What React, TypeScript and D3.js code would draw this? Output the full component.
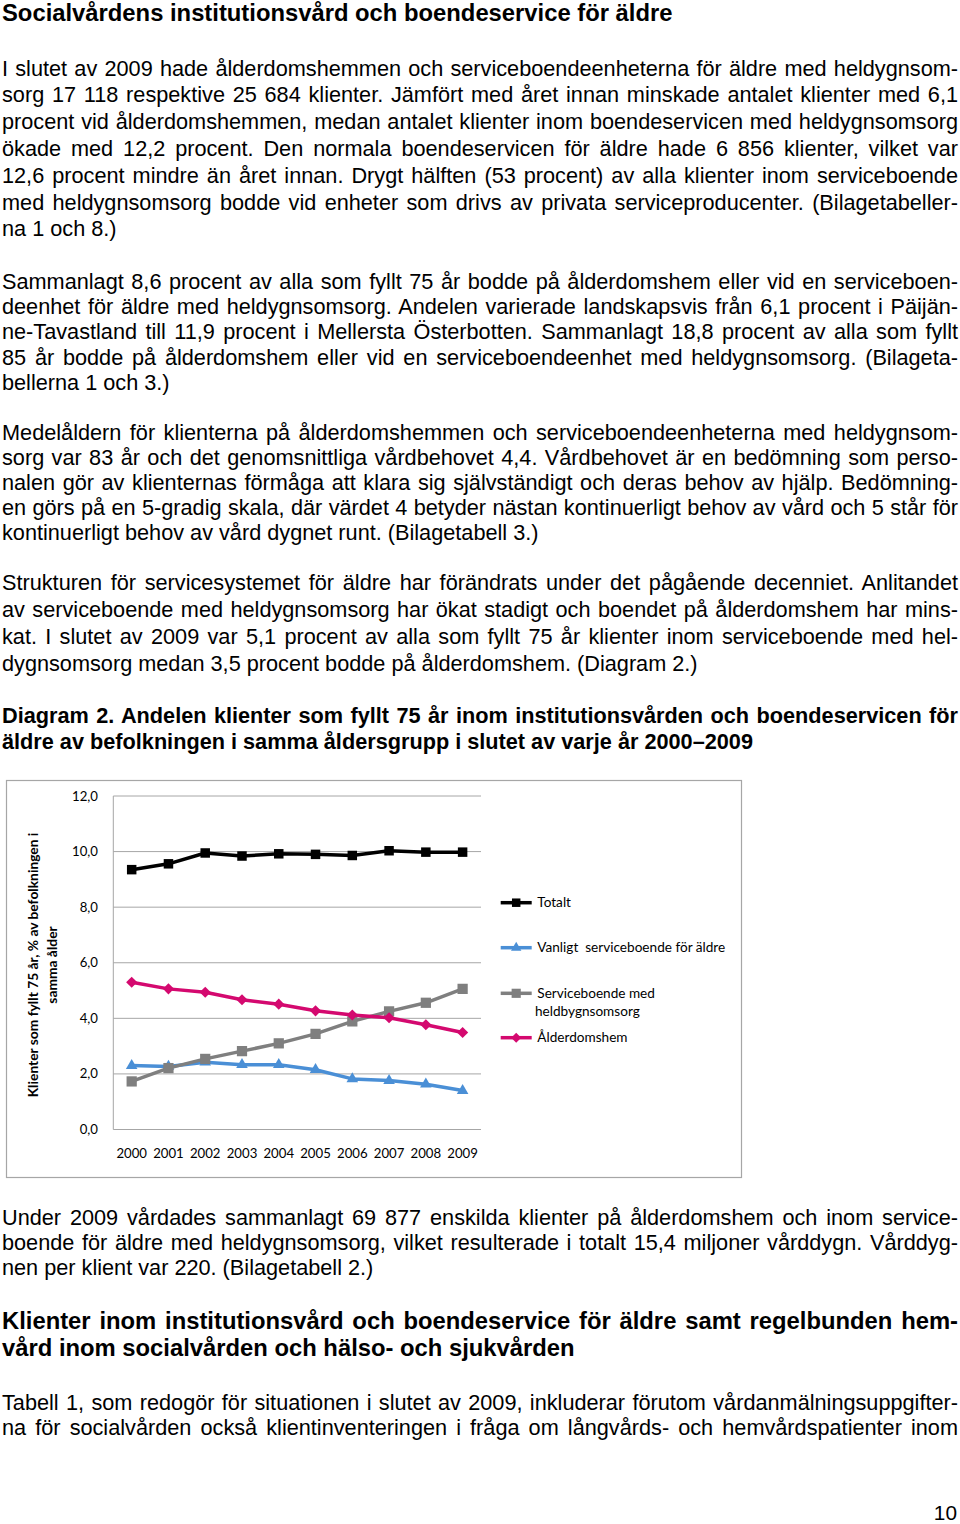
import React, { useLayoutEffect, useRef } from "react";
import * as d3 from "d3";

// ---------- chart data ----------
const years = ["2000", "2001", "2002", "2003", "2004", "2005", "2006", "2007", "2008", "2009"];
const totalt = [9.35, 9.56, 9.95, 9.84, 9.92, 9.9, 9.86, 10.03, 9.98, 9.98];
const vanligt = [2.3, 2.27, 2.42, 2.33, 2.33, 2.15, 1.82, 1.76, 1.63, 1.4];
const heldygn = [1.73, 2.21, 2.54, 2.82, 3.1, 3.44, 3.89, 4.25, 4.56, 5.06];
const alderdomshem = [5.3, 5.06, 4.94, 4.67, 4.51, 4.27, 4.12, 4.02, 3.77, 3.49];
const yTicks = [0, 2, 4, 6, 8, 10, 12];
const seriesNames = ["Totalt", "Vanligt  serviceboende för äldre", "Serviceboende med|heldbygnsomsorg", "Ålderdomshem"];
const axisTitle = ["Klienter som fyllt 75 år, % av befolkningen i", "samma ålder"];

// ---------- page text ----------
const title1 = ["Socialvårdens institutionsvård och boendeservice för äldre"];
const para1 = [
  "I slutet av 2009 hade ålderdomshemmen och serviceboendeenheterna för äldre med heldygnsom-",
  "sorg 17 118 respektive 25 684 klienter. Jämfört med året innan minskade antalet klienter med 6,1",
  "procent vid ålderdomshemmen, medan antalet klienter inom boendeservicen med heldygnsomsorg",
  "ökade med 12,2 procent. Den normala boendeservicen för äldre hade 6 856 klienter, vilket var",
  "12,6 procent mindre än året innan. Drygt hälften (53 procent) av alla klienter inom serviceboende",
  "med heldygnsomsorg bodde vid enheter som drivs av privata serviceproducenter. (Bilagetabeller-",
  "na 1 och 8.)",
];
const para2 = [
  "Sammanlagt 8,6 procent av alla som fyllt 75 år bodde på ålderdomshem eller vid en serviceboen-",
  "deenhet för äldre med heldygnsomsorg. Andelen varierade landskapsvis från 6,1 procent i Päijän-",
  "ne-Tavastland till 11,9 procent i Mellersta Österbotten. Sammanlagt 18,8 procent av alla som fyllt",
  "85 år bodde på ålderdomshem eller vid en serviceboendeenhet med heldygnsomsorg. (Bilageta-",
  "bellerna 1 och 3.)",
];
const para3 = [
  "Medelåldern för klienterna på ålderdomshemmen och serviceboendeenheterna med heldygnsom-",
  "sorg var 83 år och det genomsnittliga vårdbehovet 4,4. Vårdbehovet är en bedömning som perso-",
  "nalen gör av klienternas förmåga att klara sig självständigt och deras behov av hjälp. Bedömning-",
  "en görs på en 5-gradig skala, där värdet 4 betyder nästan kontinuerligt behov av vård och 5 står för",
  "kontinuerligt behov av vård dygnet runt. (Bilagetabell 3.)",
];
const para4 = [
  "Strukturen för servicesystemet för äldre har förändrats under det pågående decenniet. Anlitandet",
  "av serviceboende med heldygnsomsorg har ökat stadigt och boendet på ålderdomshem har mins-",
  "kat. I slutet av 2009 var 5,1 procent av alla som fyllt 75 år klienter inom serviceboende med hel-",
  "dygnsomsorg medan 3,5 procent bodde på ålderdomshem. (Diagram 2.)",
];
const diagTitle = [
  "Diagram 2. Andelen klienter som fyllt 75 år inom institutionsvården och boendeservicen för",
  "äldre av befolkningen i samma åldersgrupp i slutet av varje år 2000–2009",
];
const para5 = [
  "Under 2009 vårdades sammanlagt 69 877 enskilda klienter på ålderdomshem och inom service-",
  "boende för äldre med heldygnsomsorg, vilket resulterade i totalt 15,4 miljoner vårddygn. Vårddyg-",
  "nen per klient var 220. (Bilagetabell 2.)",
];
const heading2 = [
  "Klienter inom institutionsvård och boendeservice för äldre samt regelbunden hem-",
  "vård inom socialvården och hälso- och sjukvården",
];
const para6 = [
  "Tabell 1, som redogör för situationen i slutet av 2009, inkluderar förutom vårdanmälningsuppgifter-",
  "na för socialvården också klientinventeringen i fråga om långvårds- och hemvårdspatienter inom",
];

const TEXT_FONT = "'Liberation Sans', Arial, sans-serif";
const CHART_FONT = "Lato, 'Open Sans', sans-serif";

function Line({ x, y, text, justify, width, size, bold }) {
  const ref = useRef(null);
  useLayoutEffect(() => {
    const el = ref.current;
    if (!el || !justify) return;
    const fit = () => {
      el.style.wordSpacing = "0px";
      const nat = el.getComputedTextLength();
      const spaces = (text.match(/ /g) || []).length;
      if (spaces > 0) el.style.wordSpacing = `${(width - nat) / spaces}px`;
    };
    fit();
    if (document.fonts && document.fonts.ready) document.fonts.ready.then(fit);
  }, [text, justify, width]);
  return (
    <text ref={ref} x={x} y={y} fontFamily={TEXT_FONT} fontSize={size} fontWeight={bold ? "bold" : "normal"} fill="#000" style={{ whiteSpace: "pre" }}>
      {text}
    </text>
  );
}

function Block({ lines, y0, step, size, bold = false, justifyAll = false }) {
  return (
    <g>
      {lines.map((t, i) => (
        <Line
          key={i}
          x={2}
          y={y0 + i * step}
          text={t}
          size={size}
          bold={bold}
          width={956}
          justify={justifyAll || i < lines.length - 1}
        />
      ))}
    </g>
  );
}

export default function App() {
  const x = d3.scalePoint().domain(years).range([113.3, 481]).padding(0.5);
  const y = d3.scaleLinear().domain([0, 12]).range([1129.5, 796]);
  const line = d3
    .line<number>()
    .x((_, i) => x(years[i]) as number)
    .y((d) => y(d));

  const sq = d3.symbol().type(d3.symbolSquare);
  const series = [
    { name: seriesNames[0], data: totalt, color: "#000000", marker: "square", size: 90 },
    { name: seriesNames[1], data: vanligt, color: "#4a8fd6", marker: "triangle", size: 58 },
    { name: seriesNames[2], data: heldygn, color: "#7f7f7f", marker: "square", size: 105 },
    { name: seriesNames[3], data: alderdomshem, color: "#d4096f", marker: "diamond", size: 62 },
  ];
  const markerPath = (m, s) => {
    if (m === "triangle") return d3.symbol().type(d3.symbolTriangle).size(s)();
    return sq.size(s)();
  };
  const markerRot = (m) => (m === "diamond" ? " rotate(45)" : "");

  const legendY = [902.7, 947.7, 993.3, 1037.7];

  return (
    <svg width={960} height={1524} style={{ position: "absolute", left: 0, top: 0, background: "#fff" }}>
      <rect x={0} y={0} width={960} height={1524} fill="#fff" />
      <Block lines={title1} y0={21} step={27} size={23.8} bold />
      <Block lines={para1} y0={75.5} step={26.8} size={21.7} />
      <Block lines={para2} y0={289} step={25.2} size={21.7} />
      <Block lines={para3} y0={439.5} step={25.2} size={21.7} />
      <Block lines={para4} y0={590} step={27} size={21.7} />
      <Block lines={diagTitle} y0={722.5} step={26} size={21.7} bold />
      <Block lines={para5} y0={1224.5} step={25} size={21.7} />
      <Block lines={heading2} y0={1329} step={27} size={23.8} bold />
      <Block lines={para6} y0={1409.5} step={25} size={21.7} justifyAll />
      <text x={957} y={1520} textAnchor="end" fontFamily={TEXT_FONT} fontSize={20.8}>10</text>

      {/* chart frame */}
      <rect x={6.5} y={780.5} width={735} height={397} fill="#fff" stroke="#a6a6a6" strokeWidth={1.2} />

      {/* gridlines */}
      {yTicks.map((t) => (
        <g key={t}>
          <line x1={113.3} x2={481} y1={y(t)} y2={y(t)} stroke="#a6a6a6" strokeWidth={1} />
          <text x={98} y={y(t) + 4.5} textAnchor="end" fontFamily={CHART_FONT} fontSize={13.2} fill="#000">
            {d3.format(".1f")(t).replace(".", ",")}
          </text>
        </g>
      ))}
      <line x1={113.3} x2={113.3} y1={y(12)} y2={y(0)} stroke="#a6a6a6" strokeWidth={1} />

      {/* x labels */}
      {years.map((yr) => (
        <text key={yr} x={x(yr)} y={1158} textAnchor="middle" fontFamily={CHART_FONT} fontSize={13.2} fill="#000">
          {yr}
        </text>
      ))}

      {/* axis title */}
      <g fontFamily={CHART_FONT} fontSize={13.8} fontWeight="bold" fill="#000">
        <text transform="translate(38,965) rotate(-90)" textAnchor="middle">{axisTitle[0]}</text>
        <text transform="translate(57,965) rotate(-90)" textAnchor="middle">{axisTitle[1]}</text>
      </g>

      {/* series */}
      {series.map((s) => (
        <g key={s.name}>
          <path d={line(s.data) as string} fill="none" stroke={s.color} strokeWidth={3.5} strokeLinejoin="round" />
          {s.data.map((v, i) => (
            <path
              key={i}
              d={markerPath(s.marker, s.size) as string}
              transform={`translate(${x(years[i])},${y(v)})${markerRot(s.marker)}`}
              fill={s.color}
            />
          ))}
        </g>
      ))}

      {/* legend */}
      {series.map((s, i) => {
        const ly = legendY[i];
        const parts = s.name.split("|");
        return (
          <g key={"lg" + i}>
            <line x1={500.7} x2={531.7} y1={ly} y2={ly} stroke={s.color} strokeWidth={3.5} />
            <path
              d={markerPath(s.marker, s.size * 0.8) as string}
              transform={`translate(516.2,${ly})${markerRot(s.marker)}`}
              fill={s.color}
            />
            {parts.map((p, j) => (
              <text
                key={j}
                x={j === 0 ? 537.3 : 535}
                y={ly + 4.7 + j * 18.4}
                fontFamily={CHART_FONT}
                fontSize={13.6}
                fill="#000"
                style={{ whiteSpace: "pre" }}
              >
                {p}
              </text>
            ))}
          </g>
        );
      })}
    </svg>
  );
}
